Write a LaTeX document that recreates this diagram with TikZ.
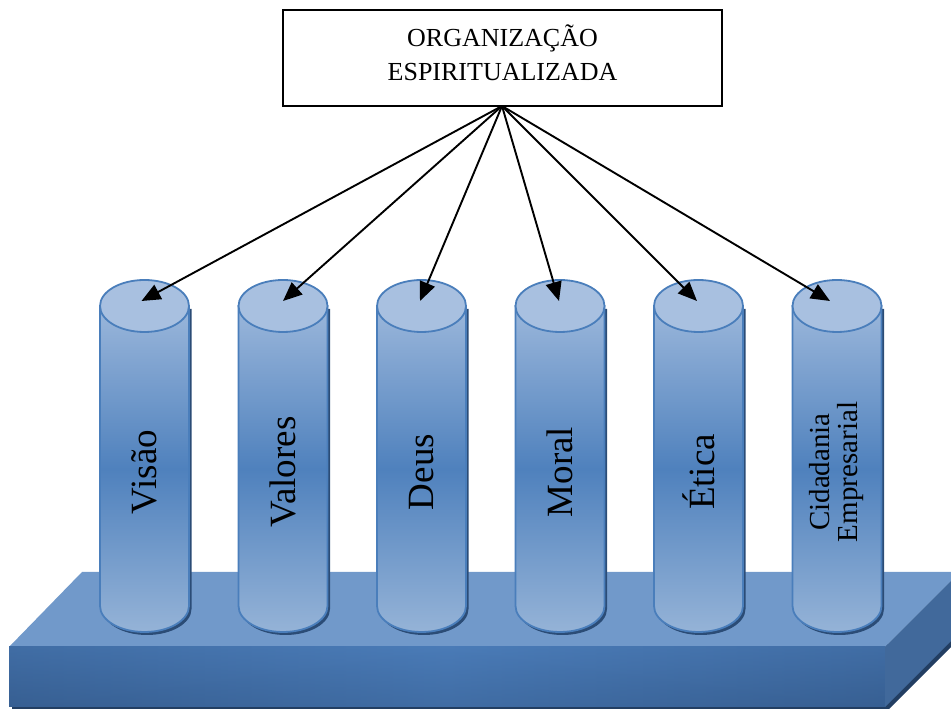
\documentclass[tikz,border=0pt]{standalone}
\usepackage{fontspec}
\setmainfont{Liberation Serif}
\usetikzlibrary{arrows.meta}

\definecolor{slabtop}{HTML}{7199CA}
\definecolor{slabedge}{HTML}{375F92}
\definecolor{slabmid}{HTML}{4A7BB7}
\definecolor{slabside}{HTML}{41699B}
\definecolor{slabshadow}{HTML}{223E62}
\definecolor{pillarline}{HTML}{4A7EBB}
\definecolor{pillarcap}{HTML}{A8C0E0}
\definecolor{pillarlight}{HTML}{9BB7DB}
\definecolor{pillardark}{HTML}{4F81BD}
\definecolor{pillarlow}{HTML}{95B3D7}
\definecolor{pillarshadow}{HTML}{2B4C76}

\tikzset{
  orgbox/.style={draw=black, line width=1.5pt, minimum width=439pt, minimum height=96pt,
    inner sep=0pt},
  orgtext/.style={align=center, font=\fontsize{26}{34}\selectfont, inner sep=0pt},
  pillarbody/.style={draw=pillarline, line width=1.8pt,
    top color=pillarlight, bottom color=pillarlow, middle color=pillardark},
  pillarcapstyle/.style={draw=pillarline, line width=1.8pt, fill=pillarcap},
  pillartext/.style={rotate=90, align=center, font=\fontsize{37}{40}\selectfont},
  smalltext/.style={rotate=90, align=center, font=\fontsize{29}{28}\selectfont},
  link/.style={line width=1.9pt, -{Triangle[length=19pt,width=16pt]}},
}

% one pillar: #1 = centre x, #2 = name of the top-centre coordinate
\newcommand\drawpillar[2]{%
  \fill[pillarshadow, xshift=2.5pt, yshift=-3pt]
    ({#1-44.5},403) -- ({#1-44.5},103)
    arc[start angle=180, end angle=360, x radius=44.5, y radius=26]
    -- ({#1+44.5},403) -- cycle;
  \path[pillarbody]
    ({#1-44.5},403) -- ({#1-44.5},103)
    arc[start angle=180, end angle=360, x radius=44.5, y radius=26]
    -- ({#1+44.5},403) -- cycle;
  \draw[pillarcapstyle] (#1,403) ellipse[x radius=44.5, y radius=26];
  \coordinate (#2) at (#1,403);
}

\begin{document}
\begin{tikzpicture}[x=1pt, y=1pt]
\useasboundingbox (0,0) rectangle (951,709);
\clip (0,0) rectangle (951,709);

% base slab
\fill[slabshadow] (12,-1) -- (888,-1) -- (963,74) -- (963,140) -- (888,65) -- (12,65) -- cycle;
\fill[slabtop] (82,137) -- (960,137) -- (885,62) -- (9,62) -- cycle;
\shade[left color=slabedge, right color=slabedge, middle color=slabmid]
  (9,62) -- (885,62) -- (885,2) -- (9,2) -- cycle;
\shade[top color=slabmid, bottom color=slabedge, fill opacity=0.5]
  (9,62) -- (885,62) -- (885,2) -- (9,2) -- cycle;
\fill[slabside] (885,62) -- (960,137) -- (960,77) -- (885,2) -- cycle;

% pillars
\drawpillar{144.5}{visao}
\drawpillar{283}{valores}
\drawpillar{421.5}{deus}
\drawpillar{560}{moral}
\drawpillar{698.5}{etica}
\drawpillar{837}{cidadania}

% pillar labels
\node[pillartext] (tvisao) at (144.5,237) {Visão};
\node[pillartext] (tvalores) at (283,237) {Valores};
\node[pillartext] (tdeus) at (421.5,237) {Deus};
\node[pillartext] (tmoral) at (560,237) {Moral};
\node[pillartext] (tetica) at (698.5,237) {Ética};
\node[smalltext] (tcidadania) at (837,237) {Cidadania\\Empresarial};

% heading box
\node[orgbox] (org) at (502.5,651) {};
\node[orgtext] (orglabel) at (502.5,656) {ORGANIZAÇÃO\\ESPIRITUALIZADA};
\coordinate (hub) at (502,603);

% arrow tips on the pillar tops
\coordinate (visaoTip) at ([shift={(-3,5)}]visao);
\coordinate (valoresTip) at ([shift={(0,5)}]valores);
\coordinate (deusTip) at ([shift={(-1.5,5)}]deus);
\coordinate (moralTip) at ([shift={(-1,5)}]moral);
\coordinate (eticaTip) at ([shift={(-1.5,5)}]etica);
\coordinate (cidadaniaTip) at ([shift={(-7,5)}]cidadania);

\foreach \t in {visaoTip, valoresTip, deusTip, moralTip, eticaTip, cidadaniaTip}
  \draw[link] (hub) -- (\t);
\end{tikzpicture}
\end{document}
